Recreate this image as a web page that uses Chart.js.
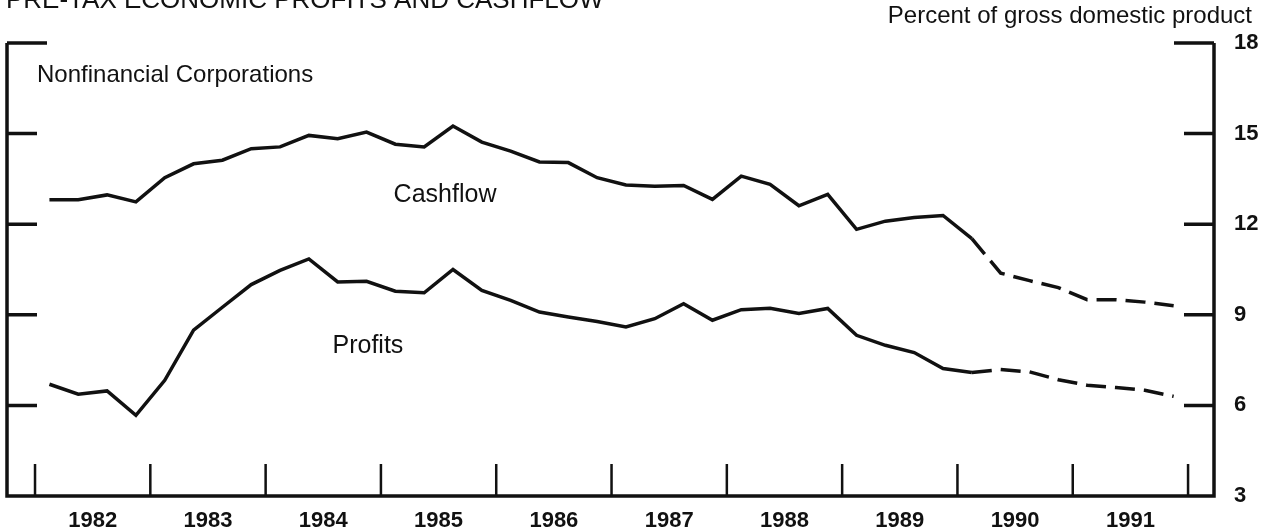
<!DOCTYPE html>
<html>
<head>
<meta charset="utf-8">
<script src="https://cdn.jsdelivr.net/npm/chart.js@4"></script>
<style>
  body { margin: 0; background: #fff; }
  #wrap { width: 1268px; height: 531px; position: relative; }
</style>
</head>
<body>
<div id="wrap"><canvas id="chart"></canvas></div>
<script>
// Pre-tax economic profits and cashflow, nonfinancial corporations (% of GDP)
const ink = '#111';
const fontFamily = '"Liberation Sans", Arial, Helvetica, sans-serif';

const years = [1982, 1983, 1984, 1985, 1986, 1987, 1988, 1989, 1990, 1991];
const quarters = years.flatMap(yr => ['Q1', 'Q2', 'Q3', 'Q4'].map(q => yr + q));
const yTicks = [3, 6, 9, 12, 15, 18];
const projectionStart = 32; // dashed from 1990Q1 on

const cashflow = [
  12.81, 12.81, 12.97, 12.74, 13.54, 14.00, 14.12, 14.50,
  14.56, 14.94, 14.83, 15.05, 14.65, 14.56, 15.25, 14.72,
  14.42, 14.06, 14.04, 13.54, 13.30, 13.26, 13.28, 12.82,
  13.59, 13.32, 12.61, 12.99, 11.83, 12.10, 12.22, 12.29,
  11.52, 10.38, 10.13, 9.90, 9.50, 9.50, 9.42, 9.30
];
const profits = [
  6.70, 6.37, 6.48, 5.67, 6.83, 8.49, 9.25, 10.00,
  10.47, 10.85, 10.09, 10.11, 9.78, 9.73, 10.50, 9.81,
  9.48, 9.09, 8.93, 8.78, 8.60, 8.87, 9.37, 8.82,
  9.17, 9.22, 9.04, 9.21, 8.32, 7.99, 7.75, 7.22,
  7.09, 7.19, 7.11, 6.85, 6.67, 6.59, 6.50, 6.30
];

// quarter label -> position in years (mid-quarter)
const toX = label => Number(label.slice(0, 4)) + (Number(label.slice(5)) - 0.5) / 4;
const toPoints = values => values.map((v, i) => ({ x: toX(quarters[i]), y: v }));

const dashAfter = ctx => ctx.p0DataIndex >= projectionStart ? [20, 9] : undefined;

const datasets = [
  { label: 'Cashflow', data: toPoints(cashflow) },
  { label: 'Profits', data: toPoints(profits) }
].map(d => ({
  ...d,
  borderColor: ink,
  borderWidth: 3.5,
  pointRadius: 0,
  fill: false,
  tension: 0,
  segment: { borderDash: dashAfter }
}));

// frame, inward tick marks and text labels
const frame = {
  id: 'frame',
  afterDraw(chart) {
    const { ctx, chartArea: a, scales: { x, y } } = chart;
    const top = y.getPixelForValue(18);
    ctx.save();
    ctx.strokeStyle = ink;
    ctx.lineWidth = 3.5;
    ctx.beginPath();
    ctx.moveTo(a.left, top);
    ctx.lineTo(a.left, a.bottom);
    ctx.lineTo(a.right, a.bottom);
    ctx.lineTo(a.right, top);
    yTicks.filter(v => v > 3).forEach(v => {
      const py = y.getPixelForValue(v);
      const len = v === 18 ? 40 : 30;
      ctx.moveTo(a.left, py);
      ctx.lineTo(a.left + len, py);
      ctx.moveTo(a.right, py);
      ctx.lineTo(a.right - len, py);
    });
    ctx.stroke();

    ctx.lineWidth = 2.5;
    ctx.beginPath();
    years.concat([1992]).forEach(yr => {
      const px = x.getPixelForValue(yr);
      ctx.moveTo(px, a.bottom);
      ctx.lineTo(px, a.bottom - 32);
    });
    ctx.stroke();

    ctx.fillStyle = ink;
    ctx.textBaseline = 'alphabetic';
    ctx.textAlign = 'left';
    ctx.font = '26px ' + fontFamily;
    ctx.fillText('PRE-TAX ECONOMIC PROFITS AND CASHFLOW', 6, 8);
    ctx.font = '24px ' + fontFamily;
    ctx.fillText('Nonfinancial Corporations', 37, 82);
    ctx.font = '25px ' + fontFamily;
    ctx.fillText('Cashflow', x.getPixelForValue(1985.11), y.getPixelForValue(12.73));
    ctx.fillText('Profits', x.getPixelForValue(1984.58), y.getPixelForValue(7.72));
    ctx.textAlign = 'right';
    ctx.font = '24px ' + fontFamily;
    ctx.fillText('Percent of gross domestic product', 1252, 23);
    ctx.restore();
  }
};

const myChart = new Chart(document.getElementById('chart'), {
  type: 'line',
  data: { datasets: datasets },
  options: {
    responsive: true,
    maintainAspectRatio: false,
    animation: false,
    layout: { padding: { top: 43, left: 7, right: 0, bottom: 0 } },
    plugins: { legend: { display: false }, tooltip: { enabled: false } },
    scales: {
      x: {
        type: 'linear',
        min: 1981.757,
        max: 1992.225,
        afterBuildTicks: s => { s.ticks = years.map(yr => ({ value: yr + 0.5 })); },
        afterFit: s => { s.height = 35; },
        grid: { display: false },
        border: { display: false },
        ticks: {
          autoSkip: false,
          maxRotation: 0,
          padding: 4,
          color: ink,
          font: { family: fontFamily, size: 22, weight: 'bold' },
          callback: v => String(Math.floor(v))
        }
      },
      y: {
        position: 'right',
        min: 3,
        max: 18,
        afterBuildTicks: s => { s.ticks = yTicks.map(v => ({ value: v })); },
        afterFit: s => { s.width = 54; },
        grid: { display: false },
        border: { display: false },
        ticks: {
          padding: 12,
          color: ink,
          font: { family: fontFamily, size: 22, weight: 'bold' }
        }
      }
    }
  },
  plugins: [frame]
});
</script>
</body>
</html>
